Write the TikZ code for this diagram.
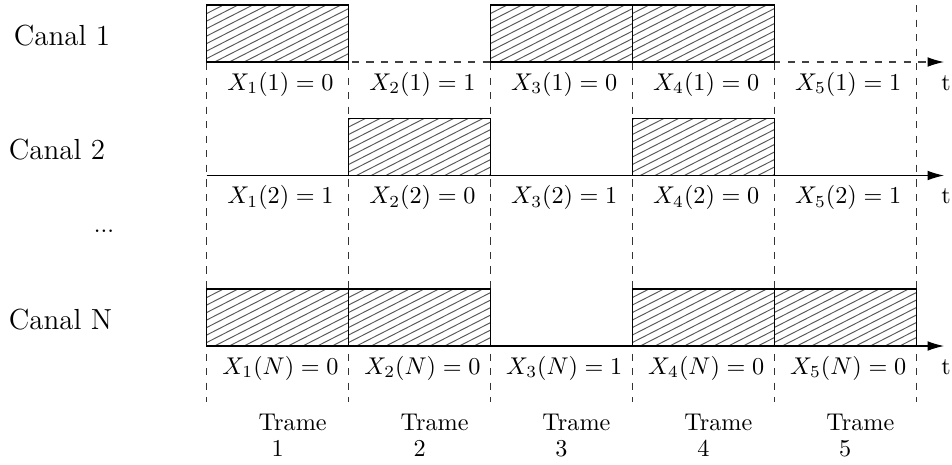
\documentclass[tikz,border=0pt]{standalone}
\usetikzlibrary{arrows.meta}
\begin{document}
\begin{tikzpicture}[x=0.4132pt,y=-0.4132pt,
  boxedge/.style={draw=black, line width=0.45pt},
  hatchline/.style={draw=black!65, line width=0.4pt},
  gridline/.style={dashed, line width=0.4pt, draw=black!80},
  axisline/.style={line width=0.45pt,-{Latex[length=6.8pt,width=4pt,color=black]}},
  lab/.style={anchor=base, inner sep=0pt},
  canal/.style={anchor=base, inner sep=0pt, font=\large}]
\useasboundingbox (0,0) rectangle (952,464);
% hatched slot: #1 = column (0..4), #2 = top y, #3 = bottom y
\newcommand{\slotbox}[3]{%
  \pgfmathsetmacro{\xl}{206.7+141.9*#1}%
  \pgfmathsetmacro{\xr}{206.7+141.9*(#1+1)}%
  \begin{scope}
    \clip (\xl,#2) rectangle (\xr,#3);
    \foreach \k in {0,...,18} {
      \draw[hatchline] (\xl,{#2+1+7.5*\k}) -- ++(145,-74);
    }
  \end{scope}
  \draw[boxedge] (\xl,#2) rectangle (\xr,#3);
}
% frame boundaries
\foreach \i in {0,...,5} {
  \coordinate (gt\i) at ({206.7+141.9*\i},5);
  \coordinate (gb\i) at ({206.7+141.9*\i},402);
  \draw[gridline] (gt\i) -- (gb\i);
}
% axes
\coordinate (a1s) at (206.7,62);    \coordinate (a1e) at (944,62);
\coordinate (a2s) at (206.7,175.5); \coordinate (a2e) at (944,175.5);
\coordinate (a3s) at (206.7,346);   \coordinate (a3e) at (944,346);
\draw[axisline,dashed,draw=black!75] (a1s) -- (a1e);
\draw[axisline] (a2s) -- (a2e);
\draw[axisline] (a3s) -- (a3e);
% occupied slots
\slotbox{0}{5}{62}
\slotbox{2}{5}{62}
\slotbox{3}{5}{62}
\slotbox{1}{118.5}{175.5}
\slotbox{3}{118.5}{175.5}
\slotbox{0}{289}{346}
\slotbox{1}{289}{346}
\slotbox{3}{289}{346}
\slotbox{4}{289}{346}
% channel names
\node[canal] (c1) at (62,45.7) {Canal 1};
\node[canal] (c2) at (57,159) {Canal 2};
\node[lab] (cd) at (104,232) {...};
\node[canal] (cN) at (60.5,329) {Canal N};
% values
\node[lab] (x11) at (280.5,90) {$X_1(1)=0$};
\node[lab] (x21) at (422.4,90) {$X_2(1)=1$};
\node[lab] (x31) at (564.3,90) {$X_3(1)=0$};
\node[lab] (x41) at (706.2,90) {$X_4(1)=0$};
\node[lab] (x51) at (848.1,90) {$X_5(1)=1$};
\node[lab] (t1) at (946,90) {t};
\node[lab] (x12) at (280.5,203.5) {$X_1(2)=1$};
\node[lab] (x22) at (422.4,203.5) {$X_2(2)=0$};
\node[lab] (x32) at (564.3,203.5) {$X_3(2)=1$};
\node[lab] (x42) at (706.2,203.5) {$X_4(2)=0$};
\node[lab] (x52) at (848.1,203.5) {$X_5(2)=1$};
\node[lab] (t2) at (946,203.5) {t};
\node[lab] (x1N) at (280.5,374) {$X_1(N)=0$};
\node[lab] (x2N) at (422.4,374) {$X_2(N)=0$};
\node[lab] (x3N) at (564.3,374) {$X_3(N)=1$};
\node[lab] (x4N) at (706.2,374) {$X_4(N)=0$};
\node[lab] (x5N) at (848.1,374) {$X_5(N)=0$};
\node[lab] (tN) at (946,374) {t};
% frame names
\foreach \i in {1,...,5} {
  \node[lab] (tr\i) at ({277.65+141.9*(\i-1)+15},430.7) {Trame};
  \node[lab] (n\i) at ({277.65+141.9*(\i-1)},456.7) {\i};
}
\end{tikzpicture}
\end{document}
